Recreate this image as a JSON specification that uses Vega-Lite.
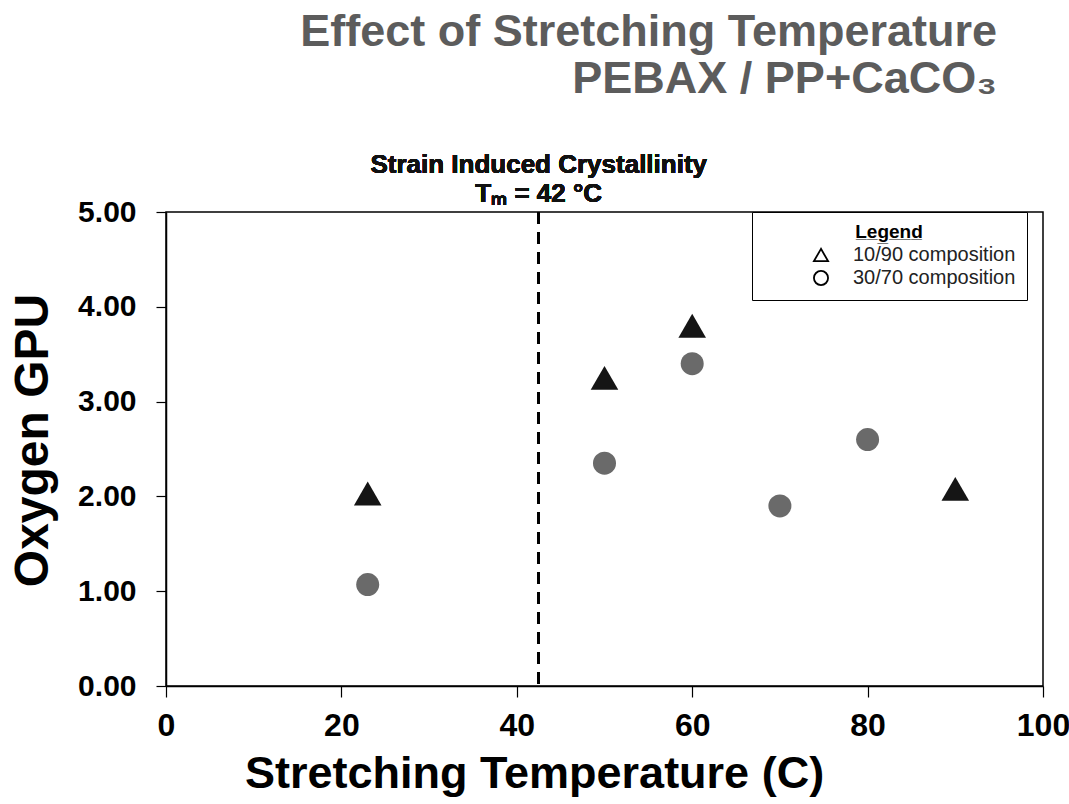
{
  "$schema": "https://vega.github.io/schema/vega-lite/v6.json",
  "width": 877,
  "height": 474,
  "autosize": "none",
  "padding": {"left": 166, "top": 212, "right": 26, "bottom": 118},
  "background": "white",
  "config": {
    "view": {"stroke": "black", "strokeWidth": 1.5},
    "font": "Liberation Sans",
    "axis": {
      "domainColor": "black", "tickColor": "black", "grid": false,
      "labelColor": "black", "titleColor": "black",
      "labelFontWeight": "bold", "titleFontWeight": "bold",
      "domainWidth": 1.5, "tickWidth": 1.2
    },
    "legend": {"symbolFillColor": "white", "symbolStrokeColor": "black"}
  },
  "title": {
    "text": ["Effect of Stretching Temperature", "PEBAX / PP+CaCO₃"],
    "anchor": "end", "frame": "group",
    "font": "Liberation Sans", "fontSize": 45, "fontWeight": "bold",
    "color": "#5c5c5c", "lineHeight": 47, "dx": -46, "offset": 50
  },
  "data": {
    "values": [
      {"temp": 23, "gpu": 2.03, "composition": "10/90 composition"},
      {"temp": 50, "gpu": 3.25, "composition": "10/90 composition"},
      {"temp": 60, "gpu": 3.80, "composition": "10/90 composition"},
      {"temp": 90, "gpu": 2.08, "composition": "10/90 composition"},
      {"temp": 23, "gpu": 1.07, "composition": "30/70 composition"},
      {"temp": 50, "gpu": 2.35, "composition": "30/70 composition"},
      {"temp": 60, "gpu": 3.40, "composition": "30/70 composition"},
      {"temp": 70, "gpu": 1.90, "composition": "30/70 composition"},
      {"temp": 80, "gpu": 2.60, "composition": "30/70 composition"}
    ]
  },
  "layer": [
    {
      "transform": [{"filter": "false"}],
      "mark": {"type": "point", "filled": false, "color": "black", "strokeWidth": 1.8, "opacity": 1},
      "encoding": {
        "x": {"field": "temp", "type": "quantitative"},
        "y": {"field": "gpu", "type": "quantitative"},
        "shape": {
          "field": "composition", "type": "nominal",
          "scale": {"domain": ["10/90 composition", "30/70 composition"], "range": ["triangle-up", "circle"]},
          "legend": {
            "orient": "none", "legendX": 586, "legendY": 0,
            "title": "L̲e̲g̲e̲n̲d̲", "titleAnchor": "middle", "titleFontSize": 19, "titleFontWeight": "bold", "titleColor": "black",
            "titlePadding": 3,
            "strokeColor": "black", "fillColor": "white", "padding": 11,
            "symbolOffset": 48, "labelOffset": 22, "symbolSize": 200,
            "symbolFillColor": "white", "symbolStrokeColor": "black", "symbolStrokeWidth": 1.8,
            "labelFontSize": 20, "labelColor": "#222", "labelLimit": 400
          }
        }
      }
    },
    {
      "mark": {"type": "rule", "color": "black", "strokeWidth": 2.5, "strokeDash": [12, 8]},
      "encoding": {"x": {"datum": 42.5, "type": "quantitative"}}
    },
    {
      "mark": {"type": "text", "text": "Strain Induced Crystallinity", "fontSize": 26, "fontWeight": "bold", "color": "#111", "baseline": "middle", "align": "center", "dy": -47},
      "encoding": {"x": {"datum": 42.5, "type": "quantitative"}, "y": {"datum": 5, "type": "quantitative"}}
    },
    {
      "mark": {"type": "text", "text": "Tₘ = 42 °C", "fontSize": 26, "fontWeight": "bold", "color": "#111", "baseline": "middle", "align": "center", "dy": -18},
      "encoding": {"x": {"datum": 42.5, "type": "quantitative"}, "y": {"datum": 5, "type": "quantitative"}}
    },
    {
      "mark": {"type": "point", "filled": true, "opacity": 1},
      "encoding": {
        "x": {
          "field": "temp", "type": "quantitative",
          "scale": {"domain": [0, 100], "nice": false},
          "axis": {
            "title": "Stretching Temperature (C)", "values": [0, 20, 40, 60, 80, 100],
            "labelFontSize": 32, "titleFontSize": 45, "tickSize": 11, "labelPadding": 13,
            "titlePadding": 10, "titleX": 368, "titleAlign": "center", "labelFlush": false
          }
        },
        "y": {
          "field": "gpu", "type": "quantitative",
          "scale": {"domain": [0, 5], "nice": false},
          "axis": {
            "title": "Oxygen GPU", "values": [0, 1, 2, 3, 4, 5], "format": ".2f",
            "labelFontSize": 30, "titleFontSize": 48, "tickSize": 10, "labelPadding": 20,
            "titlePadding": 20, "titleY": 228
          }
        },
        "shape": {
          "field": "composition", "type": "nominal"
        },
        "color": {
          "condition": {"test": "datum.composition === '10/90 composition'", "value": "#151515"},
          "value": "#6a6a6a"
        },
        "size": {
          "condition": {"test": "datum.composition === '10/90 composition'", "value": 760},
          "value": 529
        }
      }
    }
  ]
}
